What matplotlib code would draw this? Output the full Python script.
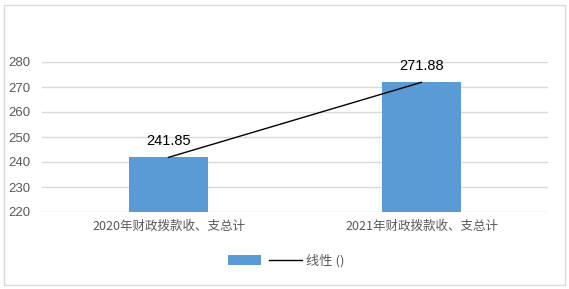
import matplotlib.pyplot as plt
from matplotlib.patches import Rectangle, Patch
from matplotlib.lines import Line2D

categories = ["2020年财政拨款收、支总计", "2021年财政拨款收、支总计"]
values = [241.85, 271.88]
yticks = [220, 230, 240, 250, 260, 270, 280]

plt.rcParams["font.family"] = ["Liberation Sans Narrow", "Liberation Sans", "Noto Sans CJK SC"]

fig = plt.figure(figsize=(5.69, 2.89), dpi=100)
ax = fig.add_axes([42 / 569, 77 / 289, 506 / 569, 150 / 289])

x = list(range(len(categories)))
ax.bar(x, values, width=0.316, color="#5b9bd5", zorder=3)
ax.plot(x, values, color="black", linewidth=1, zorder=4)

for xi, v in zip(x, values):
    ax.annotate(f"{v:.2f}", (xi, v), xytext=(0, 7), textcoords="offset points",
                ha="center", va="bottom", fontsize=10.5, color="black")

ax.set_xlim(-0.5, 1.5)
ax.set_ylim(220, 280)
ax.set_yticks(yticks)
ax.set_xticks(x)
ax.set_xticklabels(categories, family=["Liberation Sans Narrow", "Noto Sans CJK SC"])
ax.tick_params(axis="x", length=0, labelsize=9, labelcolor="#595959", pad=6)
ax.tick_params(axis="y", length=0, labelsize=9.5, labelcolor="#595959", pad=8)
ax.grid(axis="y", color="#d9d9d9", linewidth=1, zorder=0)
for s in ax.spines.values():
    s.set_visible(False)

handles = [Patch(facecolor="#5b9bd5"), Line2D([0], [0], color="black", linewidth=1)]
leg = fig.legend(handles, ["", "线性 ()"], loc="center", bbox_to_anchor=(286 / 569, 1 - 261 / 289),
                 ncol=2, frameon=False, handlelength=2.5, columnspacing=0.3,
                 handletextpad=0.3, prop={"family": ["Liberation Sans Narrow", "Noto Sans CJK SC"], "size": 9.5})
for t in leg.get_texts():
    t.set_color("#595959")

fig.patches.append(Rectangle((4 / 569, 4 / 289), 561 / 569, 280 / 289, transform=fig.transFigure,
                             fill=False, edgecolor="#d9d9d9", linewidth=1))

fig.savefig("out.png", dpi=100)
